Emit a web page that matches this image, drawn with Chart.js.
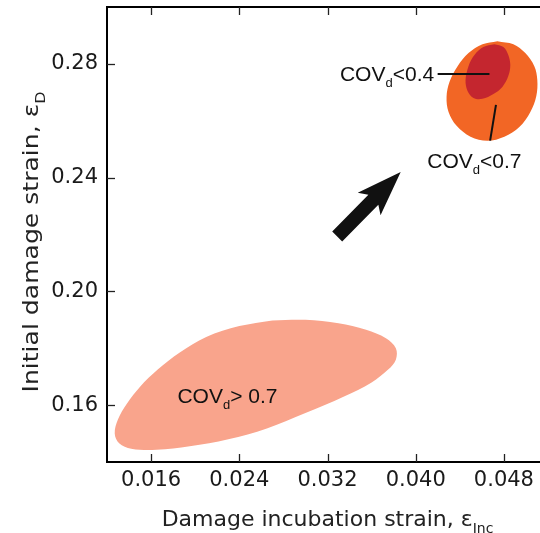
<!DOCTYPE html>
<html><head><meta charset="utf-8">
<script src="https://cdn.jsdelivr.net/npm/chart.js@4/dist/chart.umd.min.js"></script>
<style>
html,body{margin:0;padding:0;overflow:hidden;background:#fff;width:540px;height:533px}
#wrap{position:absolute;left:0;top:0;width:560px;height:533px}
</style>
</head><body><div id="wrap"><canvas id="c" width="560" height="533"></canvas></div>
<script>
// ---- data ----
const xTicks = [0.016, 0.024, 0.032, 0.040, 0.048];
const yTicks = [0.16, 0.20, 0.24, 0.28];

// COV_d > 0.7 region (pale)
const covHighX = [0.0270,0.0300,0.0330,0.0355,0.0373,0.0382,0.0382,0.0375,0.0360,0.0335,0.0300,0.0265,0.0230,0.0195,0.0165,0.0142,0.0131,0.0127,0.0130,0.0138,0.0150,0.0166,0.0186,0.0210,0.0240];
const covHighY = [0.1898,0.1900,0.1888,0.1865,0.1835,0.1800,0.1760,0.1725,0.1680,0.1630,0.1572,0.1518,0.1480,0.1455,0.1443,0.1447,0.1466,0.1500,0.1550,0.1605,0.1665,0.1725,0.1785,0.1840,0.1878];

// COV_d < 0.7 region (orange)
const covMidX = [0.04741,0.04886,0.04994,0.05076,0.05103,0.05094,0.05040,0.04940,0.04804,0.04651,0.04497,0.04371,0.04298,0.04280,0.04307,0.04380,0.04479,0.04606];
const covMidY = [0.2880,0.2869,0.2838,0.2792,0.2743,0.2687,0.2631,0.2578,0.2544,0.2530,0.2544,0.2582,0.2631,0.2684,0.2737,0.2792,0.2838,0.2869];

// COV_d < 0.4 region (dark red)
const covLowX = [0.04714,0.04795,0.04840,0.04858,0.04840,0.04786,0.04705,0.04605,0.04524,0.04470,0.04452,0.04479,0.04533,0.04614];
const covLowY = [0.2869,0.2859,0.2831,0.2796,0.2757,0.2719,0.2694,0.2677,0.2680,0.2705,0.2743,0.2792,0.2831,0.2859];

// arrow: tail -> tip
const arrowX = [0.03288, 0.03864];
const arrowY = [0.2193, 0.2420];

// annotation labels [main, subscript, rest]
const labelText = [['COV','d','<0.4'], ['COV','d','<0.7'], ['COV','d','> 0.7']];
const labelX = [0.03313, 0.04105, 0.01839];
const labelY = [0.2740, 0.2435, 0.1609];
const leaderX = [[0.04199, 0.04669], [0.04728, 0.04675]];
const leaderY = [[0.2764, 0.2764], [0.2656, 0.2530]];

const xTitle = ['Damage incubation strain, \u03B5', 'Inc'];
const yTitle = ['Initial damage strain, \u03B5', 'D'];

// ---- helpers ----
function closed(xs, ys){
  const p = xs.map((x,i)=>({x:x, y:ys[i]}));
  p.push({x:xs[0], y:ys[0]});
  return p;
}
function setFont(ctx, sub, size, family){
  ctx.font = (sub ? Math.round(size*0.62) : size) + 'px "' + family + '"';
}
function richWidth(ctx, parts, size, family){
  let w = 0;
  parts.forEach((t,i)=>{ setFont(ctx, i===1, size, family); w += ctx.measureText(t).width; });
  return w;
}
function drawRich(ctx, x, y, parts, size, family){
  let cx = x;
  parts.forEach((t,i)=>{
    const sub = i===1;
    setFont(ctx, sub, size, family);
    ctx.fillText(t, cx, sub ? y + size*0.3 : y);
    cx += ctx.measureText(t).width;
  });
}

const decor = {
  id: 'decor',
  afterDatasetsDraw(chart){
    const ctx = chart.ctx, a = chart.chartArea;
    const xs = chart.scales.x, ys = chart.scales.y;
    ctx.save();
    // arrow
    const x0 = xs.getPixelForValue(arrowX[0]), y0 = ys.getPixelForValue(arrowY[0]);
    const x1 = xs.getPixelForValue(arrowX[1]), y1 = ys.getPixelForValue(arrowY[1]);
    const L = Math.hypot(x1-x0, y1-y0), ux = (x1-x0)/L, uy = (y1-y0)/L, nx = -uy, ny = ux;
    const sw = 7, hw = 16, hl = 43;
    const bx = x1 - ux*hl, by = y1 - uy*hl;
    ctx.fillStyle = '#111';
    ctx.beginPath();
    ctx.moveTo(x0+nx*sw, y0+ny*sw);
    ctx.lineTo(bx+nx*sw+ux*4, by+ny*sw+uy*4);
    ctx.lineTo(bx+nx*hw-ux*2, by+ny*hw-uy*2);
    ctx.lineTo(x1, y1);
    ctx.lineTo(bx-nx*hw-ux*2, by-ny*hw-uy*2);
    ctx.lineTo(bx-nx*sw+ux*4, by-ny*sw+uy*4);
    ctx.lineTo(x0-nx*sw, y0-ny*sw);
    ctx.closePath();
    ctx.fill();
    // leader lines
    ctx.strokeStyle = '#111'; ctx.lineWidth = 2;
    leaderX.forEach((lx,i)=>{
      ctx.beginPath();
      ctx.moveTo(xs.getPixelForValue(lx[0]), ys.getPixelForValue(leaderY[i][0]));
      ctx.lineTo(xs.getPixelForValue(lx[1]), ys.getPixelForValue(leaderY[i][1]));
      ctx.stroke();
    });
    // labels
    ctx.fillStyle = '#111'; ctx.textBaseline = 'alphabetic'; ctx.textAlign = 'left';
    labelText.forEach((parts,i)=>{
      drawRich(ctx, xs.getPixelForValue(labelX[i]), ys.getPixelForValue(labelY[i]), parts, 21, 'Liberation Sans');
    });
    // frame
    ctx.strokeStyle = '#000'; ctx.lineWidth = 2;
    ctx.strokeRect(a.left, a.top, a.right-a.left, a.bottom-a.top);
    // inward ticks on all four sides
    ctx.lineWidth = 1.3; ctx.strokeStyle = '#222';
    const tl = 8;
    xTicks.forEach(v=>{
      const px = Math.round(xs.getPixelForValue(v)) + 0.5;
      ctx.beginPath(); ctx.moveTo(px, a.bottom); ctx.lineTo(px, a.bottom - tl); ctx.stroke();
      ctx.beginPath(); ctx.moveTo(px, a.top); ctx.lineTo(px, a.top + tl); ctx.stroke();
    });
    yTicks.forEach(v=>{
      const py = Math.round(ys.getPixelForValue(v)) + 0.5;
      ctx.beginPath(); ctx.moveTo(a.left, py); ctx.lineTo(a.left + tl, py); ctx.stroke();
      ctx.beginPath(); ctx.moveTo(a.right, py); ctx.lineTo(a.right - tl, py); ctx.stroke();
    });
    // axis titles
    ctx.fillStyle = '#222';
    const tsize = 22, fam = 'DejaVu Sans';
    const wx = richWidth(ctx, xTitle, tsize, fam);
    drawRich(ctx, (a.left + a.right)/2 - wx/2, 526, xTitle, tsize, fam);
    ctx.translate(38, 242);
    ctx.rotate(-Math.PI/2);
    ctx.scale(1.14, 1);
    const wy = richWidth(ctx, yTitle, tsize, fam);
    drawRich(ctx, -wy/2, 0, yTitle, tsize, fam);
    ctx.restore();
  }
};

const region = (c)=>({borderWidth:0, borderColor:c, backgroundColor:c, pointRadius:0, showLine:true, fill:'shape', tension:0.35});

new Chart(document.getElementById('c'), {
  type: 'scatter',
  data: { datasets: [
    Object.assign({label:'COVd<0.4', data: closed(covLowX, covLowY)}, region('#c4262f')),
    Object.assign({label:'COVd<0.7', data: closed(covMidX, covMidY)}, region('#f26625')),
    Object.assign({label:'COVd>0.7', data: closed(covHighX, covHighY)}, region('#f9a48c'))
  ]},
  options: {
    responsive:false, animation:false, devicePixelRatio:1,
    layout:{padding:{left:0, right:12, top:7, bottom:0}},
    plugins:{legend:{display:false}, tooltip:{enabled:false}},
    scales:{
      x:{type:'linear', min:0.012, max:0.052,
        afterBuildTicks:s=>{ s.ticks = xTicks.map(v=>({value:v})); },
        afterFit:s=>{ s.height = 71; s.paddingLeft = 0; s.paddingRight = 0; },
        grid:{display:false, drawTicks:false}, border:{display:false},
        ticks:{padding:6, color:'#1a1a1a', font:{family:'DejaVu Sans', size:21}, maxRotation:0, autoSkip:false,
          callback:v=>Number(v).toFixed(3)}},
      y:{type:'linear', min:0.14, max:0.30,
        afterBuildTicks:s=>{ s.ticks = yTicks.map(v=>({value:v})); },
        afterFit:s=>{ s.width = 107; s.paddingTop = 0; s.paddingBottom = 0; },
        grid:{display:false, drawTicks:false}, border:{display:false},
        ticks:{padding:9, color:'#1a1a1a', font:{family:'DejaVu Sans', size:21}, autoSkip:false,
          callback:v=>Number(v).toFixed(2)}}
    }
  },
  plugins:[decor]
});
</script>
</body></html>
